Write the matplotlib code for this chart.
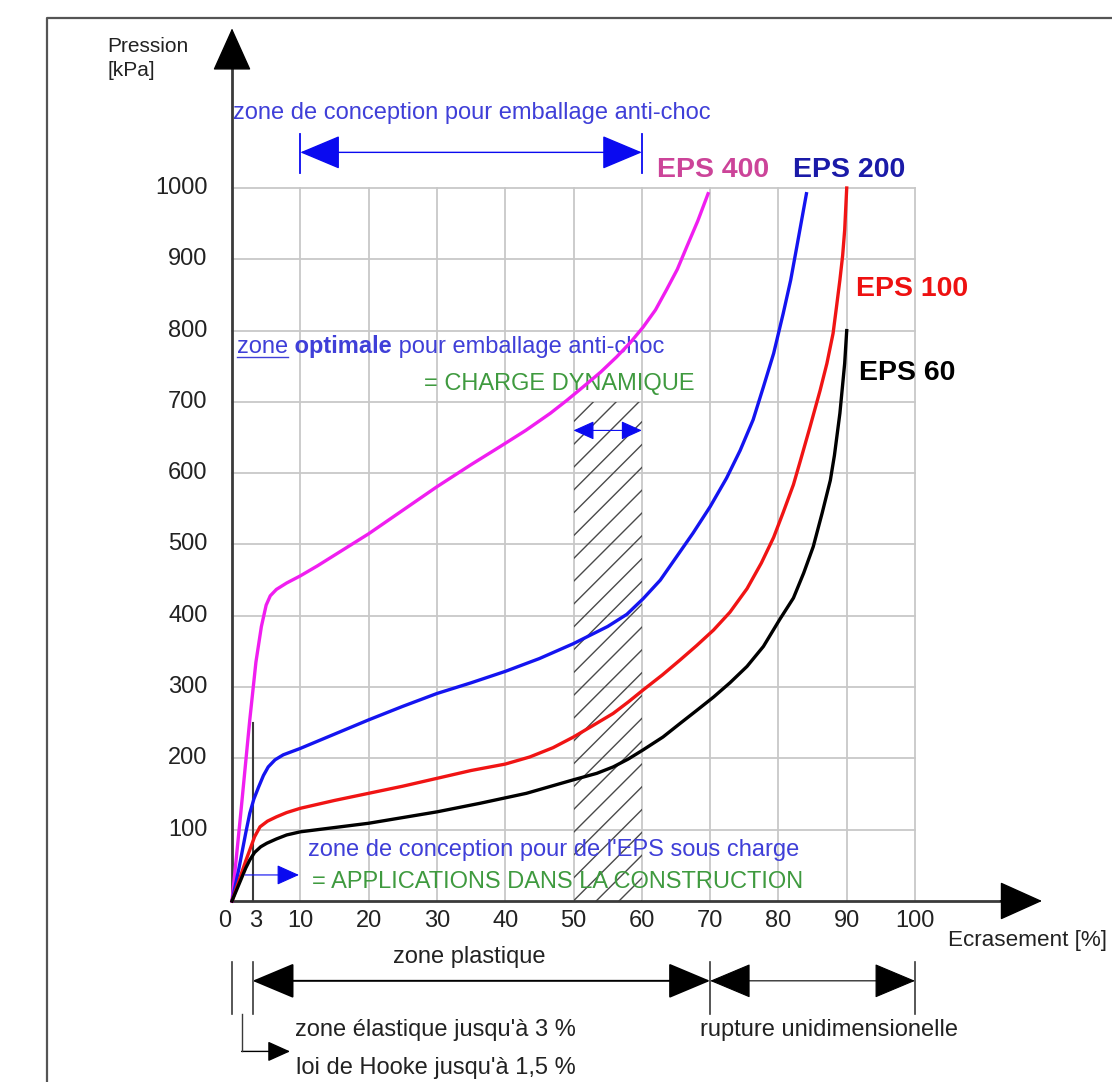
import matplotlib
matplotlib.use('Agg')
import numpy as np
import matplotlib.pyplot as plt
from matplotlib.patches import Rectangle, FancyArrowPatch, ArrowStyle

plt.rcParams['font.family'] = ['Liberation Sans', 'DejaVu Sans']

# tick values / labels
x_grid = [10, 20, 30, 40, 50, 60, 70, 80, 90, 100]
x_labels = ['0', '3', '10', '20', '30', '40', '50', '60', '70', '80', '90', '100']
x_label_pos = [-1.0, 3.4, 10, 20, 30, 40, 50, 60, 70, 80, 90, 100]
y_grid = [100, 200, 300, 400, 500, 600, 700, 800, 900, 1000]

# zone "charge dynamique" (hatched)
zone_x = [50, 60]
zone_top = 700

# curves (ecrasement %, pression kPa)
eps400_x = [0, 1.3, 2.6, 3.5, 4.3, 5.0, 5.6, 6.5, 8, 10, 12.5, 15, 20, 25, 30, 35, 39.2, 43, 46.6, 49, 51.4, 54, 56.3, 58.3, 60.2, 62, 63.6, 65.2, 66.6, 68.2, 69.7]
eps400_y = [0, 125, 254, 335, 385, 415, 428, 437, 446, 456, 470, 485, 515, 548, 581, 612, 637, 660, 684, 702, 721, 742, 763, 783, 805, 829, 857, 886, 918, 954, 992]

eps200_x = [0, 1, 2, 2.6, 3.2, 3.9, 4.6, 5.3, 6.3, 7.5, 10, 15, 20, 25, 30, 35, 40, 45, 50, 55, 57.8, 60.2, 62.7, 65.1, 67.5, 70, 72.4, 74.4, 76.3, 77.8, 79.3, 80.7, 81.8, 82.7, 83.4, 84.1]
eps200_y = [0, 45, 95, 123, 143, 160, 176, 188, 198, 205, 214, 234, 254, 273, 291, 306, 322, 340, 361, 385, 402, 424, 450, 483, 516, 553, 593, 632, 675, 721, 768, 824, 871, 918, 955, 992]

eps100_x = [0, 1, 2, 2.6, 3.3, 4.1, 5.2, 6.5, 8, 10, 15, 20, 25, 30, 35, 40, 43.6, 47, 50, 53, 55.8, 58, 60.2, 63, 65.6, 68, 70.5, 72.9, 75.4, 77.5, 79.3, 80.7, 82.2, 83.2, 84.6, 86.1, 87.1, 88.0, 88.5, 89.0, 89.4, 89.7, 90]
eps100_y = [0, 28, 56, 71.5, 90, 104, 112, 118, 124, 130, 141, 151, 161, 172, 183, 192, 202, 215, 230, 247, 263, 279, 296, 317, 338, 358, 380, 405, 438, 474, 510, 545, 584, 617, 664, 716, 754, 796, 833, 871, 905, 941, 1000]

eps60_x = [0, 1, 2, 2.6, 3.3, 4.2, 5.1, 6.5, 8, 10, 15, 20, 25, 30, 36.3, 43.1, 50, 53.4, 55.8, 58, 60.2, 63.1, 65.6, 68, 70.5, 72.9, 75.4, 77.8, 80.2, 82.2, 83.7, 85.1, 86.4, 87.6, 88.2, 89.0, 89.7, 90]
eps60_y = [0, 23, 46, 57.5, 68, 76, 81, 87, 92.6, 97, 103, 109, 117, 125, 137, 151, 170, 179, 188, 199, 212, 230, 249, 267, 286, 306, 329, 357, 395, 425, 460, 497, 544, 590, 625, 684, 754, 800]

blue_txt = '#3f3fd8'
green_txt = '#3f9a3f'
axis_col = '#3a3a3a'
fs = 17

fig = plt.figure(figsize=(11.12, 10.82), dpi=100)
ax = fig.add_axes([0, 0, 1, 1])
ax.set_xlim(-33.97, 128.84)
ax.set_ylim(-253.9, 1263.7)
ax.axis('off')

# outer frame (cut by the picture on right and bottom)
ax.plot([-27.1, -27.1, 130], [-300, 1238, 1238], color='#555555', lw=1.6, clip_on=False)

# grid
for gx in x_grid:
    ax.plot([gx, gx], [0, 1000], color='#c8c8c8', lw=1.3, zorder=1)
for gy in y_grid:
    ax.plot([0, 100], [gy, gy], color='#c8c8c8', lw=1.3, zorder=1)
ax.plot([3, 3], [0, 250], color=axis_col, lw=1.5, zorder=2)

# hatched zone 50-60 % : diagonal lines clipped to the zone
zone = Rectangle((zone_x[0], 0), zone_x[1] - zone_x[0], zone_top, fill=False, lw=0)
ax.add_patch(zone)
slope = 9.58           # 45 degrees on screen in data units
step = 32.0            # spacing of hatch lines (kPa)
for c in np.arange(-slope * 10, zone_top + step, step):
    ln, = ax.plot(zone_x, [c, c + slope * (zone_x[1] - zone_x[0])], color='#4a4a4a', lw=1.0, zorder=2)
    ln.set_clip_path(zone)

# axes with arrows
ax.plot([0, 113], [0, 0], color=axis_col, lw=2, zorder=3)
ax.plot([0, 0], [0, 1175], color=axis_col, lw=2, zorder=3)
ax.add_patch(FancyArrowPatch((112.5, 0), (118.6, 0), arrowstyle=ArrowStyle('-|>', head_length=1.0, head_width=0.45),
                             mutation_scale=28, color='black', shrinkA=0, shrinkB=0, zorder=4))
ax.add_patch(FancyArrowPatch((0, 1170), (0, 1224), arrowstyle=ArrowStyle('-|>', head_length=1.0, head_width=0.45),
                             mutation_scale=28, color='black', shrinkA=0, shrinkB=0, zorder=4))

# curves
ax.plot(eps400_x, eps400_y, color='#f01ef0', lw=2.4, zorder=5, solid_joinstyle='round')
ax.plot(eps200_x, eps200_y, color='#1414f0', lw=2.4, zorder=5, solid_joinstyle='round')
ax.plot(eps100_x, eps100_y, color='#f01414', lw=2.4, zorder=5, solid_joinstyle='round')
ax.plot(eps60_x, eps60_y, color='black', lw=2.4, zorder=5, solid_joinstyle='round')

# tick labels
for lab, xp in zip(x_labels, x_label_pos):
    ax.text(xp, -28, lab, ha='center', va='center', fontsize=fs, color='#222222')
for gy in y_grid:
    ax.text(-3.6, gy, str(gy), ha='right', va='center', fontsize=fs, color='#222222')
ax.text(-18.2, 1182, 'Pression\n[kPa]', ha='left', va='center', fontsize=15, color='#222222', linespacing=1.35)
ax.text(104.8, -55, 'Ecrasement [%]', ha='left', va='center', fontsize=16.2, color='#222222')

# curve labels
ax.text(62.2, 1025, 'EPS 400', color='#cc4499', fontsize=20.5, fontweight='bold', ha='left', va='center')
ax.text(82.2, 1025, 'EPS 200', color='#1a1aa8', fontsize=20.5, fontweight='bold', ha='left', va='center')
ax.text(91.3, 859, 'EPS 100', color='#ee1111', fontsize=20.5, fontweight='bold', ha='left', va='center')
ax.text(91.8, 741, 'EPS 60', color='black', fontsize=20.5, fontweight='bold', ha='left', va='center')

# design zone for anti-shock packaging (top)
ax.text(0.1, 1105, 'zone de conception pour emballage anti-choc', color=blue_txt, fontsize=fs, ha='left', va='center')
ax.add_patch(FancyArrowPatch((10, 1050), (60, 1050), arrowstyle=ArrowStyle('<|-|>', head_length=1.0, head_width=0.42),
                             mutation_scale=26, color='#0a0af0', lw=1, shrinkA=0, shrinkB=0))
for bx in [10, 60]:
    ax.plot([bx, bx], [1021, 1076], color='#0a0af0', lw=1.3)

# optimal zone
t1 = ax.text(0.7, 777, 'zone', color=blue_txt, fontsize=fs, ha='left', va='center')
t2 = ax.annotate(' optimale', xy=(1, 0), xycoords=t1, va='bottom', ha='left', color=blue_txt, fontsize=fs, fontweight='bold')
ax.annotate(' pour emballage anti-choc', xy=(1, 0), xycoords=t2, va='bottom', ha='left', color=blue_txt, fontsize=fs)
ax.text(67.8, 725, '= CHARGE DYNAMIQUE', color=green_txt, fontsize=fs, ha='right', va='center')
ax.add_patch(FancyArrowPatch((50, 660), (60, 660), arrowstyle=ArrowStyle('<|-|>', head_length=1.0, head_width=0.45),
                             mutation_scale=13, color='#0a0af0', lw=0.8, shrinkA=0, shrinkB=0, zorder=6))

# zone under load
ax.text(11.1, 71.5, "zone de conception pour de l'EPS sous charge", color=blue_txt, fontsize=fs, ha='left', va='center', zorder=6)
ax.text(11.7, 26.6, '= APPLICATIONS DANS LA CONSTRUCTION', color=green_txt, fontsize=fs, ha='left', va='center', zorder=6)
ax.add_patch(FancyArrowPatch((1.9, 36.5), (9.8, 36.5), arrowstyle=ArrowStyle('-|>', head_length=1.0, head_width=0.45),
                             mutation_scale=14, color='#0a0af0', lw=0.8, shrinkA=0, shrinkB=0, zorder=6))

# bottom dimension lines
ax.text(34.8, -78.5, 'zone plastique', color='#222222', fontsize=fs, ha='center', va='center')
ax.add_patch(FancyArrowPatch((3, -112), (70, -112), arrowstyle=ArrowStyle('<|-|>', head_length=1.0, head_width=0.42),
                             mutation_scale=27, color='black', lw=1.4, shrinkA=0, shrinkB=0))
ax.add_patch(FancyArrowPatch((70, -112), (100, -112), arrowstyle=ArrowStyle('<|-|>', head_length=1.0, head_width=0.42),
                             mutation_scale=27, color='black', lw=0.8, shrinkA=0, shrinkB=0))
for bx in [0, 3, 70, 100]:
    ax.plot([bx, bx], [-85, -158], color=axis_col, lw=1.2)
ax.plot([1.4, 1.4], [-158, -211], color=axis_col, lw=1.0)
ax.add_patch(FancyArrowPatch((1.4, -211), (8.5, -211), arrowstyle=ArrowStyle('-|>', head_length=1.0, head_width=0.45),
                             mutation_scale=14, color='black', lw=1.0, shrinkA=0, shrinkB=0))
ax.text(9.2, -181, "zone élastique jusqu'à 3 %", color='#222222', fontsize=fs, ha='left', va='center')
ax.text(9.4, -234, "loi de Hooke jusqu'à 1,5 %", color='#222222', fontsize=fs, ha='left', va='center')
ax.text(68.5, -181, 'rupture unidimensionelle', color='#222222', fontsize=fs, ha='left', va='center')

# underline for "zone"
fig.canvas.draw()
bb = t1.get_window_extent().transformed(ax.transData.inverted())
ax.plot([bb.x0, bb.x1], [bb.y0 + 2, bb.y0 + 2], color=blue_txt, lw=1.0)

fig.savefig('out.png', dpi=100)
